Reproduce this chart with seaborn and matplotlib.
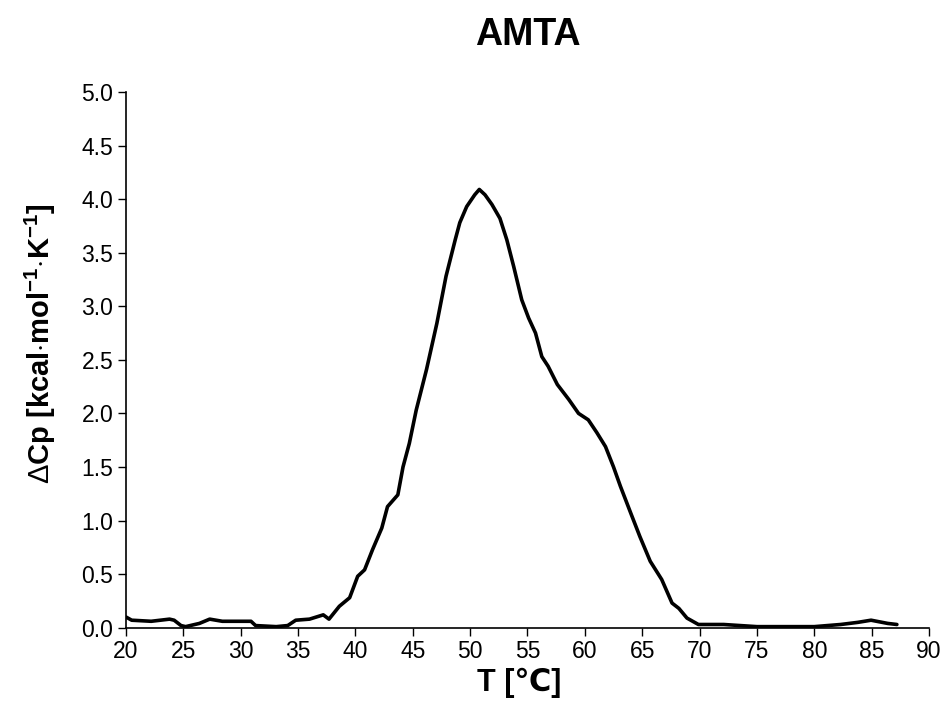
import numpy as np
import pandas as pd
import matplotlib
matplotlib.use("Agg")
import matplotlib.pyplot as plt
import seaborn as sns

# DSC trace
temperature = [20.0, 20.5, 22.2, 23.8, 24.2, 24.8, 25.2, 26.4, 27.3, 28.4, 29.3,
               30.9, 31.3, 33.1, 34.1, 34.8, 36.0, 37.2, 37.7, 38.6, 39.5, 40.2,
               40.8, 41.5, 42.3, 42.8, 43.7, 44.15, 44.7, 45.3, 46.2, 47.1, 47.9,
               48.7, 49.1, 49.7, 50.4, 50.8, 51.3, 51.9, 52.6, 53.2, 53.8, 54.5,
               55.1, 55.7, 56.25, 56.8, 57.6, 58.6, 59.45, 60.3, 61.05, 61.8, 62.5,
               63.1, 64.0, 64.8, 65.7, 66.7, 67.6, 68.2, 68.9, 69.9, 72.1, 75.0,
               80.0, 82.3, 83.8, 84.95, 86.4, 87.2]
delta_cp = [0.10, 0.07, 0.06, 0.08, 0.07, 0.02, 0.01, 0.04, 0.08, 0.06, 0.06,
            0.06, 0.02, 0.01, 0.02, 0.07, 0.08, 0.12, 0.08, 0.20, 0.28, 0.48,
            0.54, 0.73, 0.93, 1.13, 1.24, 1.50, 1.72, 2.03, 2.41, 2.84, 3.28,
            3.62, 3.78, 3.93, 4.04, 4.09, 4.04, 3.95, 3.82, 3.62, 3.37, 3.06,
            2.89, 2.75, 2.53, 2.44, 2.27, 2.13, 2.00, 1.94, 1.82, 1.69, 1.50,
            1.32, 1.07, 0.85, 0.62, 0.45, 0.23, 0.18, 0.09, 0.03, 0.03, 0.01,
            0.01, 0.03, 0.05, 0.07, 0.04, 0.03]

x_ticks = list(range(20, 95, 5))
y_ticks = [0.0, 0.5, 1.0, 1.5, 2.0, 2.5, 3.0, 3.5, 4.0, 4.5, 5.0]

df = pd.DataFrame({"T": temperature, "Cp": delta_cp})

sns.set_style("ticks")
plt.rcParams['font.family'] = ['Liberation Sans', 'DejaVu Sans']
plt.rcParams['mathtext.fontset'] = 'custom'
plt.rcParams['mathtext.rm'] = 'Liberation Sans'
plt.rcParams['mathtext.bf'] = 'Liberation Sans:bold'
for k in ['text.color', 'axes.labelcolor', 'xtick.color', 'ytick.color', 'axes.edgecolor']:
    plt.rcParams[k] = 'black'

fig = plt.figure(figsize=(9.47, 7.24), dpi=100)
ax = fig.add_axes([0.133, 0.133, 0.848, 0.740])

sns.lineplot(data=df, x="T", y="Cp", color="black", linewidth=2.6, ax=ax,
             errorbar=None, sort=False)

ax.set_xlim(20, 90)
ax.set_ylim(0, 5.0)
ax.set_xticks(x_ticks)
ax.set_yticks(y_ticks)
ax.set_yticklabels([f"{v:.1f}" for v in y_ticks])
ax.tick_params(axis="both", labelsize=16.5, length=6, width=1.0, direction="out",
               pad=3)
for s in ["left", "bottom"]:
    ax.spines[s].set_linewidth(1.2)
sns.despine(ax=ax)

ax.set_title("AMTA", fontsize=27, fontweight="bold", pad=34)
ax.set_xlabel("T [\u2103]", fontsize=22, fontweight="bold", labelpad=2)
ax.xaxis.set_label_coords(0.49, -0.075)
ax.set_ylabel(r"$\Delta$Cp [kcal$\cdot$mol$^{\mathbf{-1}}$$\cdot$K$^{\mathbf{-1}}$]",
              fontsize=21, fontweight="bold")
ax.yaxis.set_label_coords(-0.084, 0.53)

fig.savefig("out.png", dpi=100)
